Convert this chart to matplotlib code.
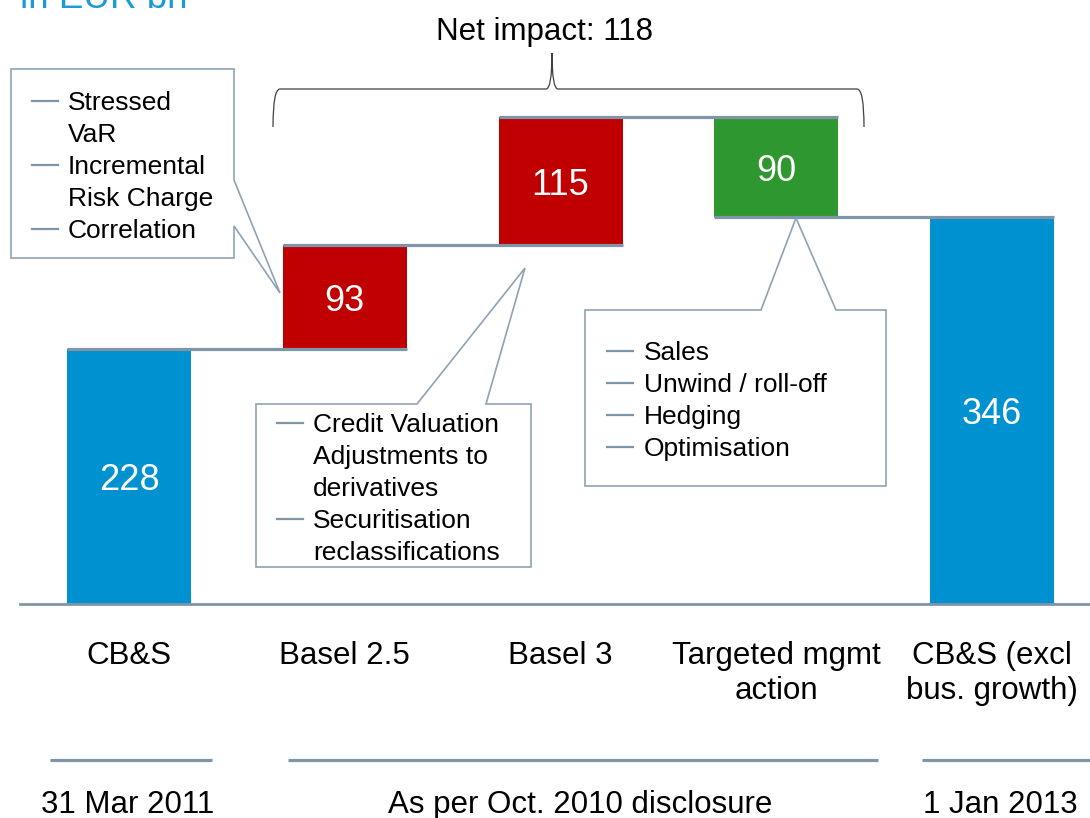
import matplotlib
matplotlib.use('Agg')
import matplotlib.pyplot as plt
from matplotlib.path import Path
from matplotlib.patches import PathPatch, Polygon
from matplotlib.transforms import blended_transform_factory

plt.rcParams['font.family'] = ['Liberation Sans', 'DejaVu Sans']

# data (EUR bn)
categories = ['CB&S', 'Basel 2.5', 'Basel 3', 'Targeted mgmt\naction', 'CB&S (excl\nbus. growth)']
values = [228, 93, 115, -90, 346]
is_total = [True, False, False, False, True]
periods = ['31 Mar 2011', 'As per Oct. 2010 disclosure', '1 Jan 2013']
notes_b25 = ['Stressed\nVaR', 'Incremental\nRisk Charge', 'Correlation']
notes_b3 = ['Credit Valuation\nAdjustments to\nderivatives', 'Securitisation\nreclassifications']
notes_mgmt = ['Sales', 'Unwind / roll-off', 'Hedging', 'Optimisation']

BLUE = '#0091d0'
RED = '#c00000'
GREEN = '#2f972f'
GREY = '#7f95a8'
BOX_EDGE = '#8ea2b6'

W, H = 1090, 818
fig = plt.figure(figsize=(W / 100, H / 100), dpi=100)

# main axes: categories on x, values on y
ax = fig.add_axes([0, 0, 1, 1])
ax.set_xlim(-0.598, 4.454)
ax.set_ylim(-191.6, 540.7)
ax.axis('off')

# overlay axes in pixel units for annotations
ov = fig.add_axes([0, 0, 1, 1])
ov.set_xlim(0, W)
ov.set_ylim(H, 0)
ov.axis('off')
ov.patch.set_alpha(0)

# waterfall geometry
bottoms, heights, colors, levels = [], [], [], []
running = 0
for v, tot in zip(values, is_total):
    if tot:
        bottoms.append(0)
        heights.append(v)
        colors.append(BLUE)
        running = v
    else:
        bottoms.append(running if v > 0 else running + v)
        heights.append(abs(v))
        colors.append(RED if v > 0 else GREEN)
        running += v
    levels.append(running)

x = list(range(len(categories)))
bw = 0.575
ax.bar(x, heights, bottom=bottoms, width=bw, color=colors, zorder=2)

# connectors
for i in range(len(x) - 1):
    ax.plot([x[i] - bw / 2, x[i + 1] + bw / 2], [levels[i], levels[i]],
            color=GREY, lw=2.3, zorder=4, solid_capstyle='butt')

# baseline
ax.axhline(0, xmin=20 / W, xmax=1, color=GREY, lw=2, zorder=3)

# value labels
for xi, b, h, v in zip(x, bottoms, heights, values):
    ax.text(xi, b + h / 2, str(abs(v)), color='white', fontsize=26,
            ha='center', va='center_baseline', zorder=5)

# category labels (x from data, y in pixels)
trans = blended_transform_factory(ax.transData, ov.transData)
for xi, lab in zip(x, categories):
    for k, line in enumerate(lab.split('\n')):
        ov.text(xi, 664 + 35 * k, line, transform=trans, fontsize=22.5,
                ha='center', va='baseline')

# period underlines and labels
for (x0, x1), (cx, lab) in zip([(50, 212), (288, 878), (922, 1090)],
                               zip([128, 580, 1000], periods)):
    ov.plot([x0, x1], [760, 760], color=GREY, lw=2.3, solid_capstyle='butt')
    ov.text(cx, 813, lab, fontsize=22.5, ha='center', va='baseline')

# title fragment
ov.text(20, 8, 'in EUR bn', color='#1a9ad6', fontsize=26.5, ha='left', va='baseline')

# net impact brace
net = sum(values[1:4])
ov.text(545, 40, f'Net impact: {net}', fontsize=22.5, ha='center', va='baseline')
verts = [(273, 127), (273, 89), (280, 89), (546, 89), (552, 89), (552, 53),
         (552, 89), (558, 89), (857, 89), (864, 89), (864, 127)]
codes = [Path.MOVETO, Path.CURVE3, Path.CURVE3, Path.LINETO, Path.CURVE3, Path.CURVE3,
         Path.CURVE3, Path.CURVE3, Path.LINETO, Path.CURVE3, Path.CURVE3]
ov.add_patch(PathPatch(Path(verts, codes), facecolor='none', edgecolor='#404040', lw=0.9))

# callout boxes
callouts = [
    ([(11, 69), (234, 69), (234, 180), (280, 293), (234, 226), (234, 258), (11, 258)],
     notes_b25, 32, 68, 110),
    ([(256, 404), (417, 404), (525, 268), (486, 404), (531, 404), (531, 567), (256, 567)],
     notes_b3, 277, 313, 432),
    ([(585, 310), (761, 310), (796, 218), (836, 310), (886, 310), (886, 486), (585, 486)],
     notes_mgmt, 607, 644, 360),
]
for poly, notes, dash_x, text_x, y0 in callouts:
    ov.add_patch(Polygon(poly, closed=True, facecolor='white', edgecolor=BOX_EDGE,
                         lw=1.2, zorder=1))
    y = y0
    for item in notes:
        for k, line in enumerate(item.split('\n')):
            if k == 0:
                ov.plot([dash_x, dash_x + 26], [y - 9, y - 9], color=GREY, lw=1.6,
                        zorder=3)
            ov.text(text_x, y, line, fontsize=19, ha='left', va='baseline', zorder=3)
            y += 32

fig.savefig('out.png', dpi=100)
